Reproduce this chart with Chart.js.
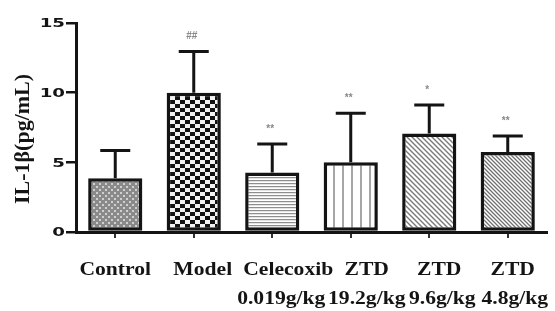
<!DOCTYPE html>
<html>
<head>
<meta charset="utf-8">
<script src="https://cdn.jsdelivr.net/npm/chart.js@4.4.1/dist/chart.umd.min.js"></script>
<style>
  html, body { margin: 0; padding: 0; background: #fff; }
  canvas { display: block; }
</style>
</head>
<body>
<canvas id="il-chart" width="555" height="311"></canvas>
<script>
// Data
const categories = ['Control', 'Model', 'Celecoxib', 'ZTD', 'ZTD', 'ZTD'];
const doses = ['', '', '0.019g/kg', '19.2g/kg', '9.6g/kg', '4.8g/kg'];
const means = [3.85, 10.0, 4.27, 5.0, 7.07, 5.74];
const errors = [2.0, 2.95, 2.05, 3.52, 2.05, 1.15];
const marks = ['', '##', '**', '**', '*', '**'];
const yTicks = [0, 5, 10, 15];

const canvas = document.getElementById('il-chart');
const ctx = canvas.getContext('2d');
const INK = '#141414';

// Pattern fills
function makePattern(w, h, draw) {
  const tile = document.createElement('canvas');
  tile.width = w;
  tile.height = h;
  const g = tile.getContext('2d');
  g.fillStyle = '#fff';
  g.fillRect(0, 0, w, h);
  draw(g);
  return ctx.createPattern(tile, 'repeat');
}

function diagonal(g, size, color, width) {
  g.strokeStyle = color;
  g.lineWidth = width;
  g.beginPath();
  g.moveTo(-1, -1); g.lineTo(size + 1, size + 1);
  g.moveTo(-1, size - 1); g.lineTo(1, size + 1);
  g.moveTo(size - 1, -1); g.lineTo(size + 1, 1);
  g.stroke();
}

const fills = [
  makePattern(6, 6, g => {
    g.fillStyle = '#8a8a8a'; g.fillRect(0, 0, 6, 6);
    g.fillStyle = '#cfcfcf'; g.fillRect(0, 0, 2, 2); g.fillRect(3, 3, 2, 2);
  }),
  makePattern(10, 8, g => {
    g.fillStyle = '#121212'; g.fillRect(0, 0, 10, 8);
    g.fillStyle = '#f2f2f2'; g.fillRect(0, 0, 5, 4); g.fillRect(5, 4, 5, 4);
  }),
  makePattern(1, 3, g => {
    g.fillStyle = '#8e8e8e'; g.fillRect(0, 0, 1, 1);
    g.fillStyle = '#e4e4e4'; g.fillRect(0, 1, 1, 1);
  }),
  makePattern(9, 1, g => {
    g.fillStyle = '#a6a6a6'; g.fillRect(0, 0, 2, 1);
  }),
  makePattern(5, 5, g => diagonal(g, 5, '#7a7a7a', 1.4)),
  makePattern(4, 4, g => diagonal(g, 4, '#707070', 1.3))
];

function stretchText(c, text, x, y, sx, align) {
  c.save();
  c.translate(x, y);
  c.scale(sx, 1);
  c.textAlign = align;
  c.fillText(text, 0, 0);
  c.restore();
}

// Error bars, significance marks and hand-placed text
const decorations = {
  id: 'decorations',
  afterDatasetsDraw(chart) {
    const c = chart.ctx;
    const y = chart.scales.y;
    const bars = chart.getDatasetMeta(0).data;
    c.save();
    bars.forEach((bar, i) => {
      const top = y.getPixelForValue(means[i] + errors[i]);
      c.strokeStyle = INK;
      c.lineWidth = 3;
      c.beginPath();
      c.moveTo(bar.x, bar.y);
      c.lineTo(bar.x, top);
      c.moveTo(bar.x - 15, top);
      c.lineTo(bar.x + 15, top);
      c.stroke();
      if (marks[i]) {
        c.fillStyle = '#888';
        c.font = 'bold 10px "Liberation Sans"';
        c.textAlign = 'center';
        c.textBaseline = 'middle';
        c.fillText(marks[i], bar.x - 2, top - 15);
      }
    });
    c.restore();
  },
  afterDraw(chart) {
    const c = chart.ctx;
    const y = chart.scales.y;
    const bars = chart.getDatasetMeta(0).data;
    c.save();
    c.fillStyle = INK;
    // y tick labels
    c.font = 'bold 13px "DejaVu Sans"';
    c.textBaseline = 'middle';
    yTicks.forEach(v => stretchText(c, String(v), 65, y.getPixelForValue(v) + 1, 1.4, 'right'));
    // y title
    c.save();
    c.translate(23, 139);
    c.rotate(-Math.PI / 2);
    c.font = 'bold 22px "Liberation Serif"';
    c.textAlign = 'center';
    c.textBaseline = 'middle';
    c.fillText('IL-1\u03b2(pg/mL)', 0, 0);
    c.restore();
    // category labels
    const nudge1 = [0, 9, 16, 16, 10, 5];
    const nudge2 = [0, 0, 9, 16, 13, 7];
    c.font = 'bold 18px "Liberation Serif"';
    c.textBaseline = 'alphabetic';
    bars.forEach((bar, i) => {
      stretchText(c, categories[i], bar.x + nudge1[i], 275, 1.2, 'center');
      if (doses[i]) stretchText(c, doses[i], bar.x + nudge2[i], 304, 1.2, 'center');
    });
    c.restore();
  }
};

new Chart(canvas, {
  type: 'bar',
  data: {
    labels: categories.map((c, i) => c + ' ' + doses[i]),
    datasets: [{
      data: means,
      backgroundColor: fills,
      borderColor: INK,
      borderWidth: 3.5,
      borderSkipped: false,
      barPercentage: 0.69,
      categoryPercentage: 1.0
    }]
  },
  options: {
    responsive: false,
    devicePixelRatio: 1,
    animation: false,
    layout: { padding: { top: 23, right: 8, left: 0, bottom: 0 } },
    plugins: { legend: { display: false }, tooltip: { enabled: false } },
    scales: {
      x: {
        grid: { offset: false, drawOnChartArea: false, tickLength: 6, lineWidth: 2, color: '#333' },
        border: { color: INK, width: 3 },
        ticks: { display: false },
        afterFit: s => { s.height = 79; }
      },
      y: {
        min: 0,
        max: 15,
        ticks: { stepSize: 5, display: false },
        grid: { drawOnChartArea: false, tickLength: 10, lineWidth: 2.5, color: INK },
        border: { color: INK, width: 3 },
        afterFit: s => { s.width = 76; }
      }
    }
  },
  plugins: [decorations]
});
</script>
</body>
</html>
